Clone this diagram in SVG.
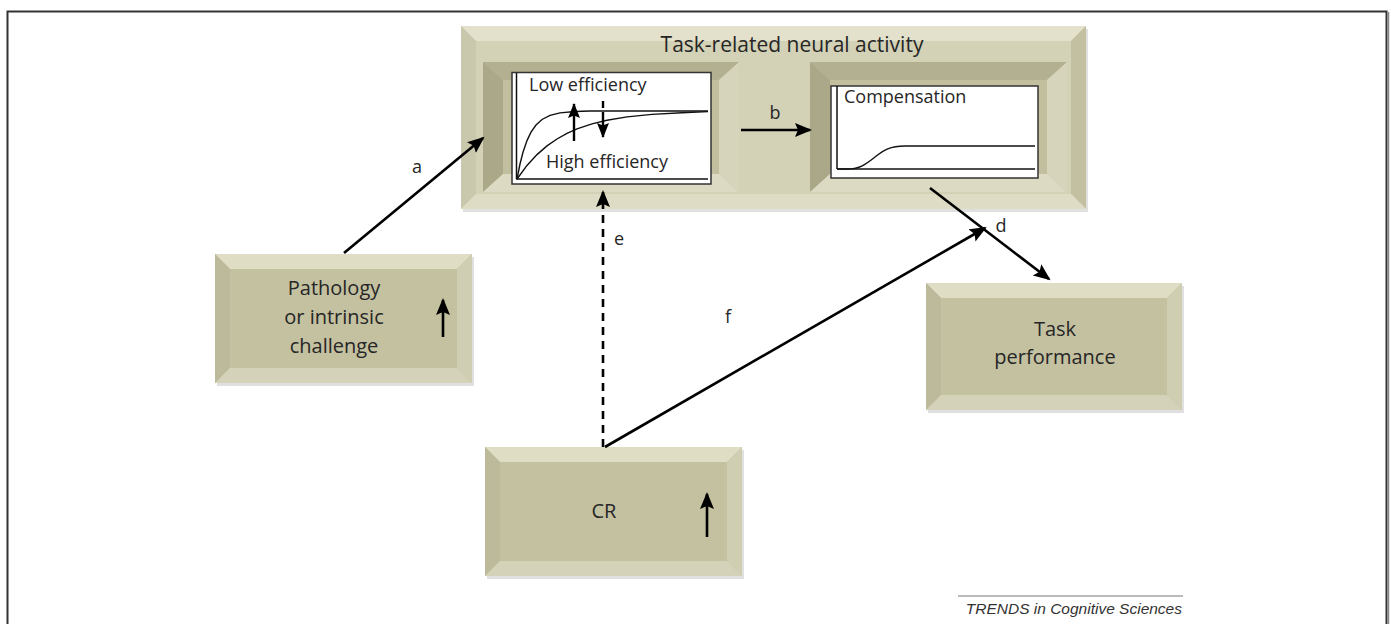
<svg xmlns="http://www.w3.org/2000/svg" width="1391" height="624" viewBox="0 0 1391 624">
<defs>
<style>
.t{font-family:"Open Sans","Liberation Sans",sans-serif;fill:#262626;}
.ft{font-family:"Liberation Sans",Arial,sans-serif;font-style:italic;fill:#333;font-size:15.5px;}
.body{fill:#c4c1a1;}
.top{fill:#dfddc4;}
.lft{fill:#bdba9b;}
.rgt{fill:#cfcdb2;}
.bot{fill:#d4d2b9;}
.ibody{fill:#c2bf9f;}
.itop{fill:#b3b091;}
.ilft{fill:#aba889;}
.irgt{fill:#d6d4bb;}
.ibot{fill:#dcdac2;}
.shadow{fill:#000;opacity:0.12;}
.chart{fill:#fff;stroke:#333;stroke-width:1.5;}
.ax{fill:none;stroke:#111;stroke-width:1.5;}
.cv{fill:none;stroke:#111;stroke-width:1.4;}
.arr{fill:none;stroke:#000;stroke-width:2.6;marker-end:url(#ah);}
.sarr{fill:none;stroke:#000;stroke-width:2.4;marker-end:url(#ah2);}
</style>
<marker id="ah" markerUnits="userSpaceOnUse" markerWidth="20" markerHeight="16" refX="15" refY="7" orient="auto">
<path d="M0,0 L17,7 L0,14 L3,7 z" fill="#000"/>
</marker>
<marker id="ah2" markerUnits="userSpaceOnUse" markerWidth="18" markerHeight="14" refX="14" refY="6" orient="auto">
<path d="M0,0 L15,6 L0,12 L2.5,6 z" fill="#000"/>
</marker>
</defs>
<rect x="0" y="0" width="1391" height="624" fill="#fff"/>
<rect x="7.5" y="11.5" width="1379" height="640" fill="none" stroke="#333" stroke-width="2"/>
<line x1="1388.5" y1="12" x2="1388.5" y2="624" stroke="#888" stroke-width="1.5"/>

<g id="neural-activity">
<rect class="shadow" x="463" y="29" width="625" height="183"/>
<rect x="461" y="26" width="625" height="183" fill="#d3d1b6"/>
<polygon points="461,26 1086,26 1071,41 476,41" fill="#e3e1cb"/>
<polygon points="461,26 476,41 476,194 461,209" fill="#cac8ac"/>
<polygon points="1086,26 1086,209 1071,194 1071,41" fill="#c3c0a2"/>
<polygon points="461,209 1086,209 1071,194 476,194" fill="#dedcc5"/>
<text class="t" x="792" y="52" font-size="21" text-anchor="middle">Task-related neural activity</text>
</g>

<g id="low-high-efficiency">
<rect class="ibody" x="483" y="62" width="256" height="130"/>
<polygon class="itop" points="483,62 739,62 719,80 503,80"/>
<polygon class="ilft" points="483,62 503,80 503,174 483,192"/>
<polygon class="irgt" points="739,62 739,192 719,174 719,80"/>
<polygon class="ibot" points="483,192 739,192 719,174 503,174"/>
<rect class="chart" x="512" y="72.5" width="199" height="111.5"/>
<line class="ax" x1="516.5" y1="73" x2="516.5" y2="179"/>
<line class="ax" x1="516" y1="179" x2="708" y2="179"/>
<path class="cv" d="M517,179 L520,164 L523,152.3 L527,140.6 L531,132.2 L536,125 L542,119.5 L550,115.4 L560,112.9 L575,111.5 L590,111 L708,111"/>
<path class="cv" d="M517,179 L527,165.4 L537,154.6 L547,145.9 L557,139 L567,133.4 L577,128.9 L592,123.8 L607,120.2 L627,116.9 L652,114.4 L682,112.7 L708,111.6"/>
<path class="sarr" d="M574,141 L574,104"/>
<path class="sarr" d="M603,101 L603,137" stroke-dasharray="7 4 60"/>
<text class="t" x="529" y="91" font-size="18">Low efficiency</text>
<text class="t" x="546" y="168" font-size="18">High efficiency</text>
</g>

<g id="compensation">
<rect class="ibody" x="810" y="62" width="257" height="130"/>
<polygon class="itop" points="810,62 1067,62 1047,80 830,80"/>
<polygon class="ilft" points="810,62 830,80 830,174 810,192"/>
<polygon class="irgt" points="1067,62 1067,192 1047,174 1047,80"/>
<polygon class="ibot" points="810,192 1067,192 1047,174 830,174"/>
<rect class="chart" x="831" y="86" width="207" height="92"/>
<line class="ax" x1="837" y1="86" x2="837" y2="169"/>
<line class="ax" x1="837" y1="169" x2="1035" y2="169"/>
<path class="cv" d="M837,169 L848,169 C860,169 866,164 875,157 C884,150 890,146 905,146 L1035,146"/>
<text class="t" x="844" y="103" font-size="18">Compensation</text>
</g>

<g id="pathology">
<rect class="shadow" x="217" y="257" width="257" height="129"/>
<rect class="body" x="215" y="254" width="257" height="129"/>
<polygon class="top" points="215,254 472,254 457,269 230,269"/>
<polygon class="lft" points="215,254 230,269 230,368 215,383"/>
<polygon class="rgt" points="472,254 472,383 457,368 457,269"/>
<polygon class="bot" points="215,383 472,383 457,368 230,368"/>
<text class="t" x="334" y="295" font-size="20" text-anchor="middle">Pathology</text>
<text class="t" x="334" y="324" font-size="20" text-anchor="middle">or intrinsic</text>
<text class="t" x="334" y="353" font-size="20" text-anchor="middle">challenge</text>
<path class="arr" d="M443,337 L443,300"/>
</g>

<g id="cr">
<rect class="shadow" x="487" y="450" width="257" height="129"/>
<rect class="body" x="485" y="447" width="257" height="129"/>
<polygon class="top" points="485,447 742,447 727,462 500,462"/>
<polygon class="lft" points="485,447 500,462 500,561 485,576"/>
<polygon class="rgt" points="742,447 742,576 727,561 727,462"/>
<polygon class="bot" points="485,576 742,576 727,561 500,561"/>
<text class="t" x="604" y="518" font-size="20" text-anchor="middle">CR</text>
<path class="arr" d="M707,537 L707,494"/>
</g>

<g id="task-performance">
<rect class="shadow" x="928" y="286" width="256" height="127"/>
<rect class="body" x="926" y="283" width="256" height="127"/>
<polygon class="top" points="926,283 1182,283 1167,298 941,298"/>
<polygon class="lft" points="926,283 941,298 941,395 926,410"/>
<polygon class="rgt" points="1182,283 1182,410 1167,395 1167,298"/>
<polygon class="bot" points="926,410 1182,410 1167,395 941,395"/>
<text class="t" x="1055" y="336" font-size="20" text-anchor="middle">Task</text>
<text class="t" x="1055" y="364" font-size="20" text-anchor="middle">performance</text>
</g>

<g id="connectors">
<path class="arr" d="M344,253 L483,138"/>
<path class="arr" d="M741,130 L810,130"/>
<path class="arr" d="M930,188 L1049,279"/>
<path class="arr" d="M603,447 L603,192" stroke-dasharray="8 6"/>
<path class="arr" d="M605,447 L985,228"/>
<text class="t" x="417" y="173" font-size="18" text-anchor="middle">a</text>
<text class="t" x="775" y="119" font-size="18" text-anchor="middle">b</text>
<text class="t" x="1001" y="232" font-size="18" text-anchor="middle">d</text>
<text class="t" x="619" y="245" font-size="18" text-anchor="middle">e</text>
<text class="t" x="728" y="323" font-size="18" text-anchor="middle">f</text>
</g>

<g id="footer">
<line x1="958" y1="596" x2="1183" y2="596" stroke="#777" stroke-width="1"/>
<text class="ft" x="1182" y="614" text-anchor="end">TRENDS in Cognitive Sciences</text>
</g>
</svg>
